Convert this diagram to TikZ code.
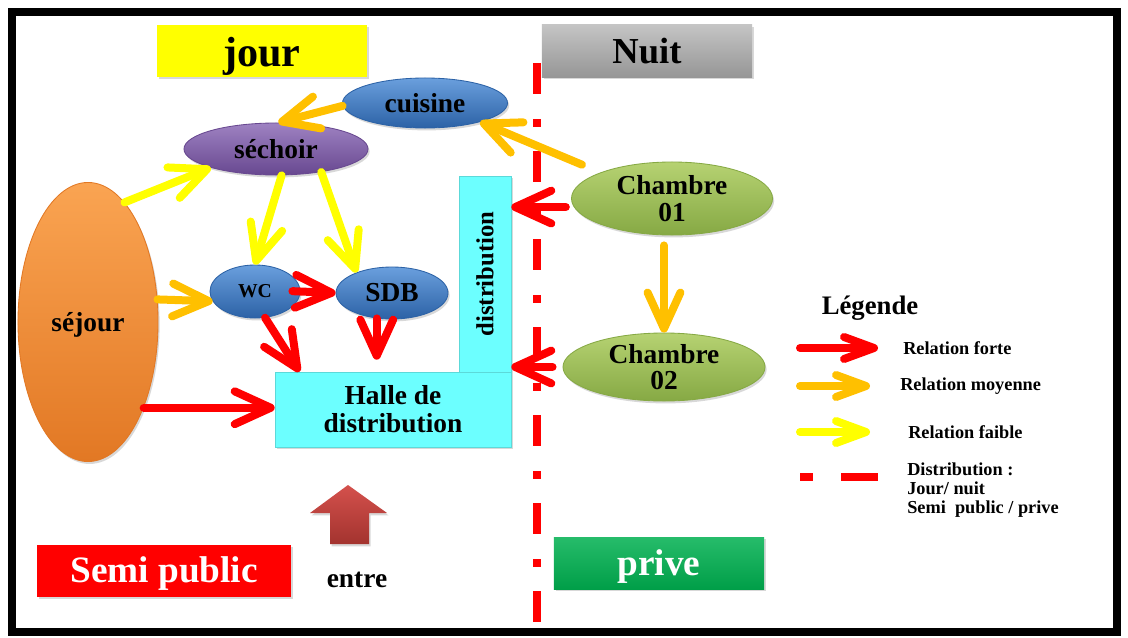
\documentclass[tikz,border=0pt]{standalone}
\usepackage{fontspec}
\setmainfont{Liberation Serif}
\usepackage{xcolor}
\usetikzlibrary{arrows.meta, positioning, shapes.geometric, calc, shadows}

\definecolor{rougeF}{HTML}{FF0000}
\definecolor{orangeF}{HTML}{FFC000}
\definecolor{jauneF}{HTML}{FFFF00}
\definecolor{cyanS}{HTML}{6CFFFF}
\definecolor{bleuA}{HTML}{6A9FDD}
\definecolor{bleuB}{HTML}{2C62A6}
\definecolor{violetA}{HTML}{9E82C2}
\definecolor{violetB}{HTML}{684890}
\definecolor{orangeA}{HTML}{FAA452}
\definecolor{orangeB}{HTML}{E27824}
\definecolor{vertA}{HTML}{B6D272}
\definecolor{vertB}{HTML}{86A944}
\definecolor{grisA}{HTML}{C4C4C4}
\definecolor{grisB}{HTML}{969696}
\definecolor{vertP}{HTML}{00B050}
\definecolor{briqueA}{HTML}{D4514C}
\definecolor{briqueB}{HTML}{A3332F}

\newcommand{\baisse}[2]{\raisebox{-#1}[\height][\depth]{#2}}

\begin{document}
\begin{tikzpicture}[x=0.025cm, y=-0.025cm,
    ombre/.style={drop shadow={opacity=0.3, shadow xshift=0.04cm, shadow yshift=-0.06cm}},
    piece/.style={ellipse, inner sep=0pt, align=center, ombre,
      font=\fontsize{19.5}{19}\selectfont\bfseries},
    bleu/.style={top color=bleuA, bottom color=bleuB, draw=bleuB, line width=0.6pt},
    violet/.style={top color=violetA, bottom color=violetB, draw=violetB, line width=0.6pt},
    orange/.style={top color=orangeA, bottom color=orangeB, draw=orangeB, line width=0.6pt},
    vert/.style={top color=vertA, bottom color=vertB, draw=vertB, line width=0.6pt},
    salle/.style={rectangle, inner sep=0pt, align=center, fill=cyanS, draw=cyanS!85!black,
      line width=0.4pt, ombre, font=\fontsize{19.5}{20}\selectfont\bfseries},
    titre/.style={rectangle, inner sep=0pt, minimum width=5.25cm, minimum height=1.3cm,
      ombre, font=\fontsize{26}{26}\selectfont\bfseries},
    zone/.style={rectangle, inner sep=0pt, minimum height=1.3cm, ombre, text=white,
      font=\fontsize{26.5}{26.5}\selectfont\bfseries},
    fleche/.style={line width=0.2cm, line cap=round,
      -{Straight Barb[length=0.9cm, width=0.82cm, round]}},
    forte/.style={fleche, draw=rougeF},
    moyenne/.style={fleche, draw=orangeF},
    faible/.style={fleche, draw=jauneF},
    petite/.style={-{Straight Barb[length=0.75cm, width=0.55cm, round]}},
    limite/.style={draw=rougeF, line width=0.2cm,
      dash pattern=on 0.775cm off 0.625cm on 0.2cm off 0.6cm},
    legtexte/.style={inner sep=0pt, font=\fontsize{13}{13.5}\selectfont\bfseries}
]
\useasboundingbox (0,0) rectangle (1128,637);
\fill[white] (0,0) rectangle (1128,637);
\draw[line width=0.22cm] (12,12) rectangle (1117,632);

\node[titre, fill=jauneF, font=\fontsize{30}{30}\selectfont\bfseries] (jour) at (262,51) {\baisse{0.14cm}{jour}};
\node[titre, top color=grisA, bottom color=grisB] (nuit) at (647,51) {Nuit};

\node[piece, bleu, minimum width=4.125cm, minimum height=1.25cm] (cuisine) at (425,103) {cuisine};
\node[piece, violet, minimum width=4.6cm, minimum height=1.3cm] (sechoir) at (276,149) {séchoir};
\node[piece, orange, minimum width=3.5cm, minimum height=6.975cm] (sejour) at (88,322) {\baisse{0.08cm}{séjour}};
\node[piece, bleu, minimum width=2.25cm, minimum height=1.325cm,
  font=\fontsize{14}{14}\selectfont\bfseries] (wc) at (255,291.5) {WC};
\node[piece, bleu, minimum width=2.8cm, minimum height=1.3cm] (sdb) at (392,293) {SDB};
\node[piece, vert, minimum width=5.025cm, minimum height=1.825cm] (ch1) at (672,198.5) {Chambre\\01};
\node[piece, vert, minimum width=5.05cm, minimum height=1.7cm] (ch2) at (664,367) {Chambre\\02};

\node[salle, rotate=90, minimum width=4.9cm, minimum height=1.3cm,
  font=\fontsize{17.5}{17.5}\selectfont\bfseries] (distrib) at (485,274) {distribution};
\node[salle, minimum width=5.9cm, minimum height=1.875cm] (halle) at (393,409.5) {Halle de\\distribution};

\node[zone, minimum width=6.35cm, fill=rougeF] (semi) at (164,570.5) {\baisse{0.08cm}{Semi public}};
\node[zone, minimum width=5.25cm, top color=vertP!85!white, bottom color=vertP!90!black]
  (prive) at (659,563) {\baisse{0.1cm}{prive}};
\node[inner sep=0pt, font=\fontsize{19.5}{19.5}\selectfont\bfseries] (entre) at (357,580) {entre};
\shade[top color=briqueA, bottom color=briqueB, ombre]
  (330,544) -- (330,513) -- (310,513) -- (348,485) -- (387,513) -- (369,513) -- (369,544) -- cycle;

\coordinate (l0) at (537,63);
\coordinate (l1) at (537,625);
\draw[limite] (l0) -- (l1);

\draw[moyenne] (cuisine.182) -- (sechoir.85);
\draw[moyenne, shorten <=0.5cm] (ch1.160) -- (cuisine.-19);
\draw[faible] (sejour.73) -- (sechoir.196);
\draw[faible] (sechoir.-78) -- (wc.north);
\draw[faible] (sechoir.-27) -- (sdb.150);
\draw[moyenne] (sejour.18) -- (wc.193);
\draw[forte, shorten <=-0.2cm] (wc.east) -- (sdb.west);
\draw[forte] (wc.-69) -- (halle.158);
\draw[forte, shorten >=0.3cm] (sdb.239) -- (sdb.239 |- halle.north);
\draw[forte] (sejour.-57) -- (sejour.-57 -| halle.west);
\draw[forte, shorten <=0.2cm] (ch1.185) -- (ch1.185 -| distrib.south);
\draw[forte, shorten <=0.25cm] (ch2.west) -- (ch2.west -| distrib.south);
\draw[moyenne, shorten <=0.25cm] (ch2.north |- ch1.south) -- (ch2.north);

\node[inner sep=0pt, font=\fontsize{19}{19}\selectfont\bfseries] (legende) at (870,308) {Légende};
\coordinate (fa0) at (800,348);
\coordinate (fa1) at (878,348);
\coordinate (fb0) at (800,386);
\coordinate (fb1) at (870,386);
\coordinate (fc0) at (800,432);
\coordinate (fc1) at (870,432);
\coordinate (fd0) at (800,477);
\coordinate (fd1) at (878,477);
\draw[forte, petite] (fa0) -- (fa1);
\draw[moyenne, petite] (fb0) -- (fb1);
\draw[faible, petite] (fc0) -- (fc1);
\draw[limite, dash pattern=on 0.325cm off 0.7cm on 0.925cm] (fd0) -- (fd1);
\node[legtexte, anchor=west] (ta) at (903,348) {Relation forte};
\node[legtexte, anchor=west] (tb) at (900,386) {Relation moyenne};
\node[legtexte, anchor=west] (tc) at (908,432) {Relation faible};
\node[legtexte, anchor=north west, align=left] (td) at (907,463)
  {Distribution :\\Jour/ nuit\\Semi\ \ public / prive};
\end{tikzpicture}
\end{document}
